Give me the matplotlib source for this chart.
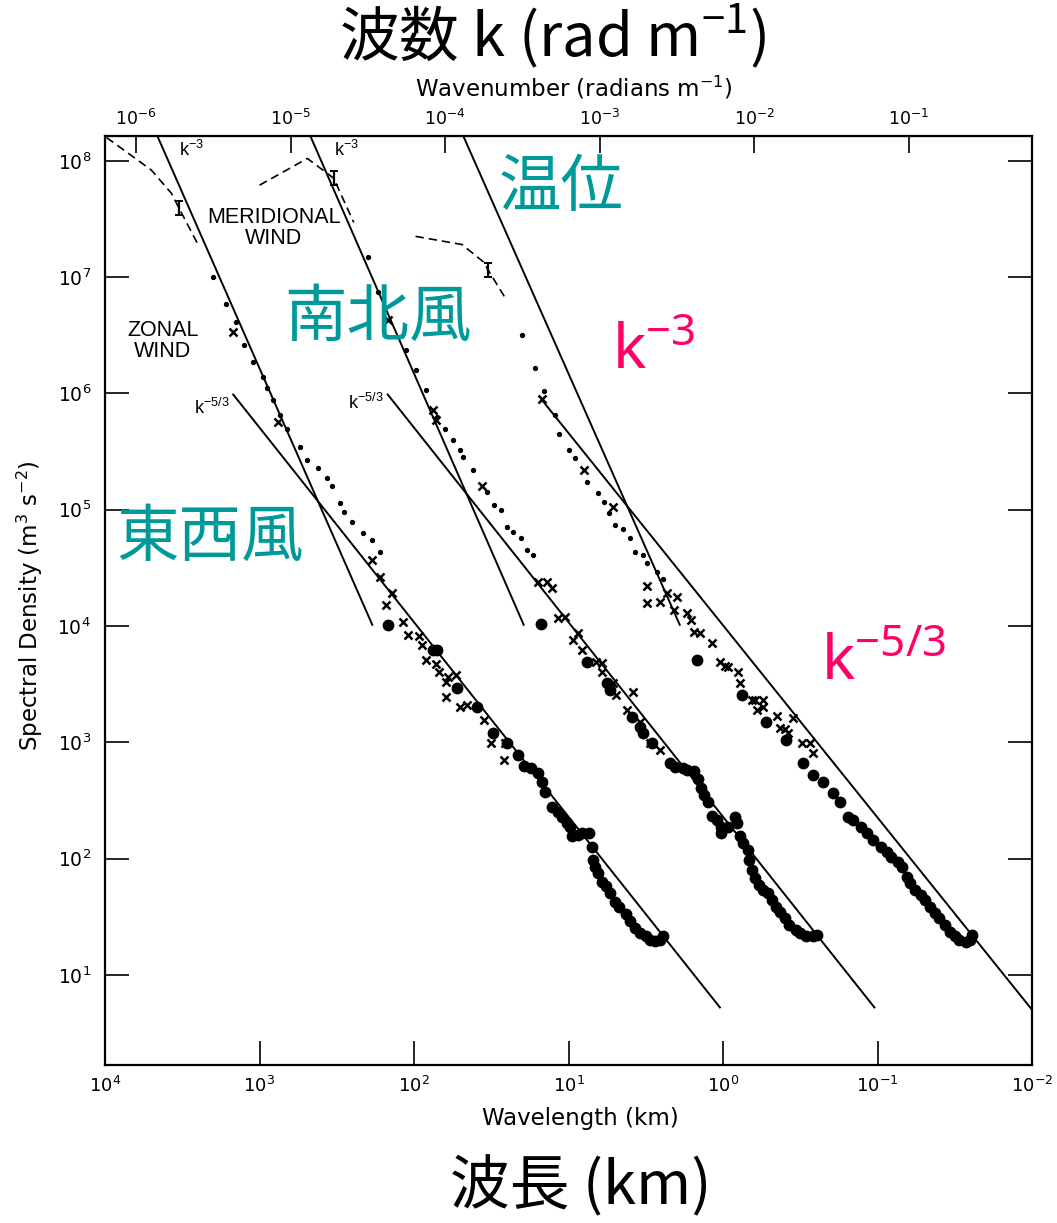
import numpy as np
import matplotlib
matplotlib.use("Agg")
import matplotlib.pyplot as plt
from matplotlib.ticker import FixedLocator, NullLocator, LogFormatterMathtext

plt.rcParams['mathtext.default'] = 'regular'

TEAL = '#00999a'
PINK = '#ff0069'
W, H = 1057, 1223

# every value below is log10: wavelength in km, spectral density in m^3 s^-2

# zonal wind
zon_dash_x = [3.99, 3.70, 3.57, 3.52, 3.39]
zon_dash_y = [8.20, 7.92, 7.72, 7.59, 7.26]
zon_dot_x = [3.30, 3.22, 3.15, 3.10, 3.04, 2.98, 2.95, 2.91, 2.87, 2.82, 2.74,
             2.69, 2.62, 2.56, 2.53, 2.48, 2.45, 2.40, 2.33, 2.27, 2.22]
zon_dot_y = [7.00, 6.77, 6.61, 6.42, 6.27, 6.14, 6.05, 5.94, 5.81, 5.69, 5.54,
             5.43, 5.36, 5.27, 5.20, 5.06, 4.98, 4.89, 4.80, 4.74, 4.64]
zon_x_x = [3.17, 2.88, 2.27, 2.22, 2.14, 2.18, 2.07, 2.04, 1.97, 1.95, 1.92, 1.86,
           1.84, 1.78, 1.73, 1.79, 1.79, 1.70, 1.66, 1.55, 1.50, 1.41, 1.42]
zon_x_y = [6.53, 5.75, 4.57, 4.42, 4.28, 4.18, 4.03, 3.92, 3.91, 3.84, 3.71, 3.67,
           3.60, 3.56, 3.58, 3.52, 3.39, 3.30, 3.32, 3.19, 2.99, 2.99, 2.85]
zon_big_x = [2.17, 1.88, 1.85, 1.72, 1.59, 1.49, 1.40, 1.33, 1.29, 1.24, 1.20, 1.17,
             1.15, 1.11, 1.07, 1.04, 1.01, 0.99, 0.98, 0.94, 0.91, 0.87, 0.85, 0.84,
             0.83, 0.81, 0.78, 0.76, 0.73, 0.70, 0.67, 0.63, 0.60, 0.57, 0.54, 0.50,
             0.47, 0.44, 0.41, 0.39]
zon_big_y = [4.01, 3.79, 3.79, 3.47, 3.30, 3.08, 2.99, 2.89, 2.80, 2.78, 2.74, 2.66,
             2.57, 2.44, 2.40, 2.36, 2.31, 2.27, 2.19, 2.20, 2.22, 2.22, 2.10, 1.99,
             1.93, 1.88, 1.80, 1.76, 1.70, 1.63, 1.58, 1.52, 1.46, 1.40, 1.36, 1.33,
             1.30, 1.29, 1.30, 1.33]

# meridional wind (plotted one decade to the right)
mer_dash_x = [3.00, 2.69, 2.52, 2.39]
mer_dash_y = [7.79, 8.02, 7.85, 7.47]
mer_dot_x = [2.30, 2.23, 2.05, 1.99, 1.92, 1.85, 1.80, 1.75, 1.70, 1.68, 1.62,
             1.53, 1.48, 1.44, 1.40, 1.36, 1.31, 1.27, 1.23]
mer_dot_y = [7.17, 6.87, 6.37, 6.20, 6.03, 5.80, 5.69, 5.60, 5.51, 5.45, 5.34,
             5.15, 5.04, 5.00, 4.85, 4.81, 4.76, 4.65, 4.61]
mer_x_x = [2.17, 1.88, 1.86, 1.56, 1.20, 1.14, 1.11, 1.07, 1.02, 0.94, 0.97, 0.91,
           0.82, 0.78, 0.78, 0.71, 0.73, 0.58, 0.69, 0.62, 0.54, 0.47, 0.41]
mer_x_y = [6.63, 5.86, 5.77, 5.20, 4.38, 4.38, 4.33, 4.07, 4.08, 3.94, 3.88, 3.79,
           3.69, 3.68, 3.60, 3.51, 3.48, 3.43, 3.41, 3.28, 3.17, 2.99, 2.93]
mer_big_x = [1.18, 0.88, 0.75, 0.73, 0.59, 0.54, 0.52, 0.46, 0.34, 0.31, 0.26, 0.23,
             0.19, 0.16, 0.14, 0.12, 0.10, 0.07, 0.04, 0.01, 0.01, -0.03, -0.08,
             -0.09, -0.11, -0.13, -0.16, -0.17, -0.19, -0.21, -0.23, -0.26, -0.29,
             -0.32, -0.34, -0.37, -0.40, -0.43, -0.47, -0.50, -0.54, -0.58, -0.61]
mer_big_y = [4.02, 3.69, 3.51, 3.45, 3.22, 3.13, 3.08, 2.99, 2.82, 2.79, 2.78, 2.76,
             2.75, 2.68, 2.61, 2.55, 2.49, 2.37, 2.33, 2.27, 2.22, 2.27, 2.36,
             2.31, 2.19, 2.13, 2.07, 1.99, 1.90, 1.83, 1.77, 1.73, 1.70,
             1.64, 1.58, 1.54, 1.49, 1.43, 1.39, 1.36, 1.33, 1.33, 1.34]

# potential temperature (plotted two decades to the right)
tmp_dash_x = [1.99, 1.69, 1.55, 1.52, 1.40]
tmp_dash_y = [7.35, 7.28, 7.13, 7.06, 6.80]
tmp_dot_x = [1.30, 1.22, 1.16, 1.09, 1.06, 1.00, 0.96, 0.88, 0.81, 0.77, 0.74,
             0.70, 0.65, 0.60, 0.57, 0.52, 0.49, 0.43, 0.39]
tmp_dot_y = [6.50, 6.22, 6.02, 5.81, 5.65, 5.51, 5.44, 5.24, 5.14, 5.07, 4.97,
             4.87, 4.83, 4.76, 4.64, 4.61, 4.54, 4.46, 4.40]
tmp_x_x = [1.17, 0.90, 0.71, 0.49, 0.36, 0.30, 0.49, 0.41, 0.32, 0.23, 0.21, 0.19,
           0.15, 0.07, 0.02, -0.01, -0.03, -0.10, -0.11, -0.19, -0.21, -0.26, -0.26,
           -0.22, -0.35, -0.37, -0.40, -0.42, -0.45, -0.51, -0.56, -0.58]
tmp_x_y = [5.95, 5.34, 5.02, 4.34, 4.28, 4.25, 4.20, 4.21, 4.14, 4.11, 4.05, 3.95,
           3.94, 3.85, 3.69, 3.66, 3.65, 3.60, 3.51, 3.36, 3.36, 3.36, 3.30,
           3.28, 3.23, 3.12, 3.11, 3.08, 3.21, 2.99, 2.99, 2.91]
tmp_big_x = [0.17, -0.12, -0.28, -0.41, -0.52, -0.58, -0.65, -0.71, -0.76, -0.81,
             -0.84, -0.89, -0.93, -0.97, -1.02, -1.06, -1.09, -1.13, -1.16, -1.19,
             -1.21, -1.24, -1.28, -1.31, -1.34, -1.37, -1.40, -1.44, -1.47, -1.50,
             -1.53, -1.57, -1.60, -1.61]
tmp_big_y = [3.71, 3.41, 3.17, 3.02, 2.82, 2.72, 2.66, 2.56, 2.49, 2.36,
             2.33, 2.27, 2.22, 2.16, 2.10, 2.06, 2.01, 1.97, 1.93, 1.84,
             1.79, 1.73, 1.69, 1.64, 1.58, 1.53, 1.49, 1.43, 1.37, 1.33,
             1.30, 1.28, 1.30, 1.34]

# reference slopes: (x0, y0, x1, y1)
k3_lines = [(3.66, 8.21, 2.27, 4.01), (2.67, 8.21, 1.29, 4.01), (1.68, 8.21, 0.28, 4.01)]
k53_lines = [(3.17, 5.99, 0.02, 0.72), (2.17, 5.99, -0.98, 0.72), (1.17, 5.94, -2.0, 0.70)]

# index of the point on each dashed curve that carries an error bar
dash_err = [3, 2, 3]


def p(v):
    return 10.0 ** np.asarray(v, dtype=float)


fig = plt.figure(figsize=(W / 100, H / 100), dpi=100)
ax = fig.add_axes([105 / W, 1 - 1065 / H, 927 / W, 929 / H])


def ftext(x, y, s, **kw):
    fig.text(x / W, 1 - y / H, s, **kw)


for (x0, y0, x1, y1) in k3_lines + k53_lines:
    ax.plot(p([x0, x1]), p([y0, y1]), color='k', lw=1.4)

series = [
    (zon_dash_x, zon_dash_y, zon_dot_x, zon_dot_y, zon_x_x, zon_x_y, zon_big_x, zon_big_y),
    (mer_dash_x, mer_dash_y, mer_dot_x, mer_dot_y, mer_x_x, mer_x_y, mer_big_x, mer_big_y),
    (tmp_dash_x, tmp_dash_y, tmp_dot_x, tmp_dot_y, tmp_x_x, tmp_x_y, tmp_big_x, tmp_big_y),
]
for i, (dx, dy, sx, sy, cx, cy, bx, by) in enumerate(series):
    ax.plot(p(dx), p(dy), color='k', lw=1.2, ls=(0, (5, 3)))
    j = dash_err[i]
    yv = 10.0 ** dy[j]
    ax.errorbar([10.0 ** dx[j]], [yv], yerr=[[yv - yv / 10 ** 0.06], [yv * 10 ** 0.06 - yv]],
                fmt='none', ecolor='k', elinewidth=1.6, capsize=3, capthick=1.4)
    ax.plot(p(sx), p(sy), ls='none', marker='o', ms=2.8, color='k')
    ax.plot(p(cx), p(cy), ls='none', marker='x', ms=5.5, mew=1.8, color='k')
    ax.plot(p(bx), p(by), ls='none', marker='o', ms=7.5, color='k')

ax.set_xscale('log')
ax.set_yscale('log')
ax.set_xlim(1e4, 1e-2)
ax.set_ylim(10 ** 0.225, 10 ** 8.213)

ax.xaxis.set_major_locator(FixedLocator(10.0 ** np.arange(4, -3, -1)))
ax.yaxis.set_major_locator(FixedLocator(10.0 ** np.arange(1, 9)))
ax.xaxis.set_minor_locator(NullLocator())
ax.yaxis.set_minor_locator(NullLocator())
ax.xaxis.set_major_formatter(LogFormatterMathtext())
ax.yaxis.set_major_formatter(LogFormatterMathtext())
ax.tick_params(direction='in', length=17, width=1.2, right=True, top=False)
ax.tick_params(axis='x', labelsize=13, pad=8, labelfontfamily=['Liberation Sans Narrow', 'DejaVu Sans'])
ax.tick_params(axis='y', labelsize=13.5, pad=10, labelfontfamily='DejaVu Sans')
for s in ax.spines.values():
    s.set_linewidth(1.6)


def wl2k(wl):
    wl = np.asarray(wl, dtype=float)
    return 2 * np.pi / (np.clip(wl, 1e-12, None) * 1e3)


sec = ax.secondary_xaxis('top', functions=(wl2k, wl2k))
k_ticks = 10.0 ** np.arange(-6, 0)
sec.set_xticks(k_ticks, labels=[r'$10^{%d}$' % e for e in range(-6, 0)])
sec.xaxis.set_minor_locator(NullLocator())
sec.tick_params(direction='in', length=12, width=1.2, labelsize=12.5, pad=5,
                labelfontfamily=['Liberation Sans Narrow', 'DejaVu Sans'])

# labels inside the plot
lab = dict(family='Liberation Sans', color='k', ha='center', va='center')
ftext(192, 150, 'k$^{-3}$', fontsize=13, **lab)
ftext(347, 150, 'k$^{-3}$', fontsize=13, **lab)
ftext(212, 408, 'k$^{-5/3}$', fontsize=13, **lab)
ftext(366, 403, 'k$^{-5/3}$', fontsize=13, **lab)
ftext(274, 228, 'MERIDIONAL\nWIND', fontsize=15.5, linespacing=1.05, **lab)
ftext(163, 341, 'ZONAL\nWIND', fontsize=15.5, linespacing=1.05, **lab)

jp = ['Noto Sans CJK JP', 'DejaVu Sans']
ftext(561, 188, '温位', fontsize=45, family=jp, color=TEAL, ha='center', va='center')
ftext(378, 318, '南北風', fontsize=45, family=jp, color=TEAL, ha='center', va='center')
ftext(210, 538, '東西風', fontsize=45, family=jp, color=TEAL, ha='center', va='center')
ftext(612, 369, 'k$^{-3}$', fontsize=45, family='Noto Sans', color=PINK, ha='left', va='baseline')
ftext(821, 680, 'k$^{-5/3}$', fontsize=45, family='Noto Sans', color=PINK, ha='left', va='baseline')

# axis titles
ftext(553, 36, '波数 k (rad m$^{-1}$)', fontsize=43, family=jp, ha='center', va='center')
ftext(574, 88, 'Wavenumber (radians m$^{-1}$)', fontsize=16.5, family='DejaVu Sans',
      ha='center', va='center')
ftext(580, 1119, 'Wavelength (km)', fontsize=16.5, family='DejaVu Sans', ha='center', va='center')
ftext(581, 1188, '波長 (km)', fontsize=43, family=jp, ha='center', va='center')
ftext(30, 606, 'Spectral Density (m$^3$ s$^{-2}$)', fontsize=16.5, family='DejaVu Sans',
      rotation=90, ha='center', va='center')

fig.savefig('out.png', dpi=100)
